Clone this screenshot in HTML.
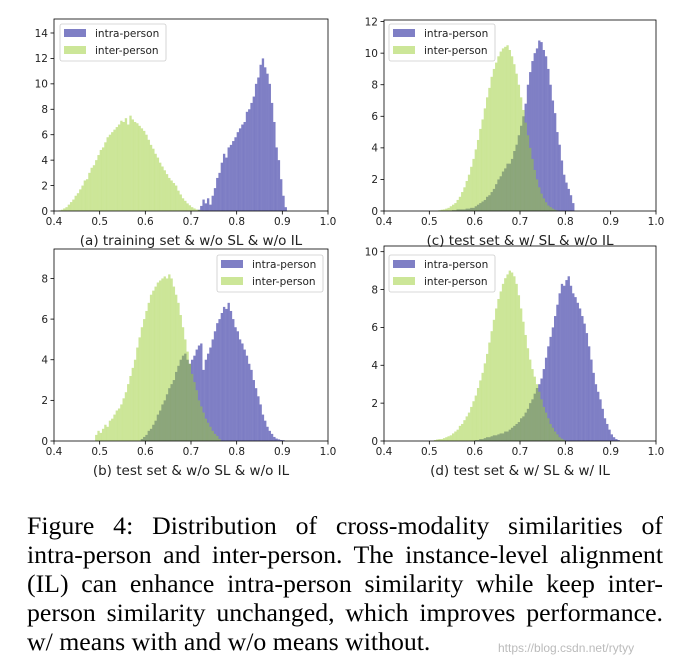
<!DOCTYPE html>
<html><head><meta charset="utf-8"><style>
body{margin:0;background:#fff;width:686px;height:667px;overflow:hidden;position:relative}
svg{position:absolute;left:0;top:0}
#cap{position:absolute;left:27px;top:511px;width:636px;font-family:"Liberation Serif",serif;font-size:25.8px;line-height:29px;color:#000}
#cap span{display:block;text-align:justify;text-align-last:justify;white-space:nowrap}
#cap span.last{text-align-last:left}
#wm{position:absolute;left:498px;top:641px;font-family:"Liberation Sans",sans-serif;font-size:12px;color:#bbb}
</style></head><body>
<svg id="fig" width="686" height="667"></svg>
<div id="cap">
<span>Figure 4: Distribution of cross-modality similarities of</span>
<span>intra-person and inter-person. The instance-level alignment</span>
<span>(IL) can enhance intra-person similarity while keep inter-</span>
<span>person similarity unchanged, which improves performance.</span>
<span class="last">w/ means with and w/o means without.</span>
</div>
<div id="wm">https://blog.csdn.net/rytyy</div>
<script>
const binWidth = 0.005;
const xTicks = [0.4,0.5,0.6,0.7,0.8,0.9,1.0];
const xTickLabels = ["0.4","0.5","0.6","0.7","0.8","0.9","1.0"];
const yTicksA = [0,2,4,6,8,10,12,14];
const yTicksB = [0,2,4,6,8];
const yTicksC = [0,2,4,6,8,10,12];
const yTicksD = [0,2,4,6,8,10];
const interStartA = 0.41;
const interA = [0.05,0.1,0.2,0.3,0.5,0.7,0.9,1.2,1.4,1.7,2.0,2.4,2.5,3.0,3.4,3.6,4.0,4.4,4.8,5.0,5.4,5.8,6.0,6.2,6.4,6.6,6.8,7.1,7.0,7.3,6.8,7.5,7.2,7.0,6.9,6.7,6.5,6.3,6.0,5.6,5.2,4.9,4.5,4.2,3.8,3.5,3.2,2.9,2.6,2.4,2.2,2.0,1.6,1.3,1.0,0.8,0.6,0.45,0.3,0.2,0.12,0.08,0.04];
const intraStartA = 0.715;
const intraA = [0.1,0.4,0.9,0.6,1.0,0.5,1.2,1.8,2.6,3.0,3.8,4.5,4.2,5.0,5.2,5.5,5.8,6.2,6.5,6.8,7.0,7.8,8.0,8.5,9.0,10.0,10.5,11.5,12.0,11.3,10.8,10.0,8.5,7.0,5.0,4.0,2.5,1.2,0.3];
const interStartB = 0.49;
const interB = [0.3,0.5,0.4,0.6,0.8,0.7,1.0,1.1,1.3,1.5,1.6,1.8,2.1,2.4,2.8,3.2,3.6,4.0,4.6,5.1,5.6,6.0,6.4,6.8,7.2,7.4,7.6,7.8,7.9,8.0,8.1,8.0,8.2,8.0,7.6,7.2,6.8,6.2,5.6,5.0,4.4,3.8,3.3,2.9,2.5,2.0,1.7,1.4,1.1,0.9,0.7,0.5,0.35,0.25,0.1];
const intraStartB = 0.59;
const intraB = [0.1,0.2,0.3,0.5,0.6,0.8,1.0,1.3,1.5,1.8,2.0,2.3,2.6,2.8,3.0,3.4,3.7,4.0,4.2,4.3,4.0,3.8,4.0,4.2,4.5,4.7,4.8,3.5,4.0,4.3,4.6,5.0,5.4,5.8,6.0,6.3,6.6,6.5,6.8,6.4,6.0,5.6,5.4,5.0,4.8,4.5,4.2,3.8,3.5,3.0,2.6,2.2,1.8,1.3,1.0,0.7,0.5,0.35,0.2,0.12,0.08,0.05,0.04];
const interStartC = 0.52;
const interC = [0.05,0.08,0.1,0.15,0.2,0.3,0.4,0.5,0.7,0.9,1.2,1.5,1.9,2.3,2.8,3.3,3.9,4.5,5.2,5.8,6.5,7.2,7.8,8.5,9.0,9.4,9.8,10.1,10.3,10.4,10.5,10.2,9.8,9.3,8.7,8.0,7.2,6.4,5.6,4.8,4.0,3.3,2.6,2.0,1.5,1.1,0.8,0.55,0.35,0.25,0.15,0.08,0.04];
const intraStartC = 0.55;
const intraC = [0.05,0.05,0.1,0.1,0.1,0.1,0.15,0.15,0.2,0.2,0.3,0.4,0.5,0.6,0.7,0.9,1.0,1.2,1.4,1.7,2.0,2.2,2.5,2.7,3.0,3.0,3.3,3.8,4.2,4.8,5.4,6.0,6.8,8.0,8.8,9.5,10.0,10.3,10.8,10.7,10.2,9.8,9.0,8.0,7.0,6.2,5.0,4.2,3.2,2.3,1.8,1.4,1.0,0.5];
const interStartD = 0.51;
const interD = [0.05,0.08,0.1,0.1,0.15,0.2,0.25,0.3,0.4,0.5,0.6,0.8,0.9,1.1,1.3,1.5,1.8,2.1,2.4,2.8,3.2,3.6,4.1,4.6,5.2,5.8,6.4,7.0,7.5,7.9,8.3,8.6,8.8,9.0,8.9,8.7,8.3,7.7,7.0,6.3,5.6,4.9,4.3,3.8,3.4,3.0,2.6,2.2,1.8,1.5,1.2,0.9,0.7,0.5,0.35,0.2,0.12,0.06];
const intraStartD = 0.60;
const intraD = [0.05,0.05,0.1,0.1,0.15,0.2,0.2,0.25,0.3,0.3,0.35,0.4,0.4,0.5,0.5,0.6,0.7,0.8,0.9,1.0,1.2,1.3,1.5,1.7,2.0,2.2,2.5,2.8,3.0,3.3,3.8,4.4,5.0,5.5,6.0,6.6,7.2,7.8,8.3,8.2,8.5,8.7,8.2,7.8,7.6,7.3,7.0,6.6,6.2,5.7,5.0,4.3,3.6,3.0,2.6,2.2,1.7,1.2,0.9,0.6,0.35,0.2,0.1,0.05];

const NS="http://www.w3.org/2000/svg";
const svg=document.getElementById('fig');
function mk(tag,attrs,parent){const e=document.createElementNS(NS,tag);for(const k in attrs)e.setAttribute(k,attrs[k]);(parent||svg).appendChild(e);return e;}

const panels=[
 {id:'a',L:54,R:328,T:19,B:211,ymax:15.1,yt:yTicksA,intraS:intraStartA,intra:intraA,interS:interStartA,inter:interA,title:'(a) training set & w/o SL & w/o IL',titleY:245,leg:[60,24]},
 {id:'c',L:384,R:656,T:20,B:211,ymax:12.1,yt:yTicksC,intraS:intraStartC,intra:intraC,interS:interStartC,inter:interC,title:'(c) test set & w/ SL & w/o IL',titleY:245,leg:[389,24]},
 {id:'b',L:54,R:328,T:249,B:441,ymax:9.45,yt:yTicksB,intraS:intraStartB,intra:intraB,interS:interStartB,inter:interB,title:'(b) test set & w/o SL & w/o IL',titleY:475,leg:[217,255]},
 {id:'d',L:384,R:656,T:246,B:441,ymax:10.3,yt:yTicksD,intraS:intraStartD,intra:intraD,interS:interStartD,inter:interD,title:'(d) test set & w/ SL & w/ IL',titleY:475,leg:[389,255]}
];
const font='"DejaVu Sans","Liberation Sans",sans-serif';
panels.forEach(p=>{
 const g=mk('g',{});
 
 
 const xs=v=>p.L+(v-0.4)/0.6*(p.R-p.L);
 const ys=v=>p.B-v/p.ymax*(p.B-p.T);
 function bars(start,arr,color,name){
  const gg=mk('g',{fill:color,'fill-opacity':0.5},g);
  
  
  arr.forEach((v,i)=>{
   const x0=xs(start+i*binWidth),x1=xs(start+(i+1)*binWidth);
   const r=mk('rect',{x:x0,y:ys(v),width:x1-x0+0.05,height:p.B-ys(v)},gg);
   
   
  });
 }
 bars(p.intraS,p.intra,'#00008b','intra-person');
 bars(p.interS,p.inter,'#9acd32','inter-person');
 const fr=mk('rect',{x:p.L,y:p.T,width:p.R-p.L,height:p.B-p.T,fill:'none',stroke:'#000','stroke-width':0.8},g);
 
 
 xTicks.forEach((t,i)=>{
  const x=xs(t);
  mk('line',{x1:x,x2:x,y1:p.B,y2:p.B+3.5,stroke:'#000','stroke-width':0.8},g);
  const tx=mk('text',{x:x,y:p.B+14,'text-anchor':'middle','font-size':10.5,'font-family':font,fill:'#222'},g);
  tx.textContent=xTickLabels[i];
  
  
 });
 p.yt.forEach(t=>{
  const y=ys(t);
  mk('line',{x1:p.L-3.5,x2:p.L,y1:y,y2:y,stroke:'#000','stroke-width':0.8},g);
  const tx=mk('text',{x:p.L-6,y:y+3.8,'text-anchor':'end','font-size':10.5,'font-family':font,fill:'#222'},g);
  tx.textContent=String(t);
  
  
 });
 const ti=mk('text',{x:(p.L+p.R)/2,y:p.titleY,'text-anchor':'middle','font-size':13.5,'font-family':font,fill:'#222'},g);
 ti.textContent=p.title;
 
 
 const [lx,ly]=p.leg;
 const lg=mk('g',{},g);
 
 
 mk('rect',{x:lx,y:ly,width:106,height:37,rx:2,fill:'#fff','fill-opacity':0.8,stroke:'#ccc','stroke-width':0.8},lg);
 [['intra-person','#00008b'],['inter-person','#9acd32']].forEach((e,i)=>{
  const ent=mk('g',{},lg);
  
  
  mk('rect',{x:lx+4,y:ly+5+i*17,width:22,height:8,fill:e[1],'fill-opacity':0.5},ent);
  const t=mk('text',{x:lx+35,y:ly+13+i*17,'font-size':10.5,'font-family':font,fill:'#222'},ent);
  t.textContent=e[0];
 });
});
</script>
</body></html>
